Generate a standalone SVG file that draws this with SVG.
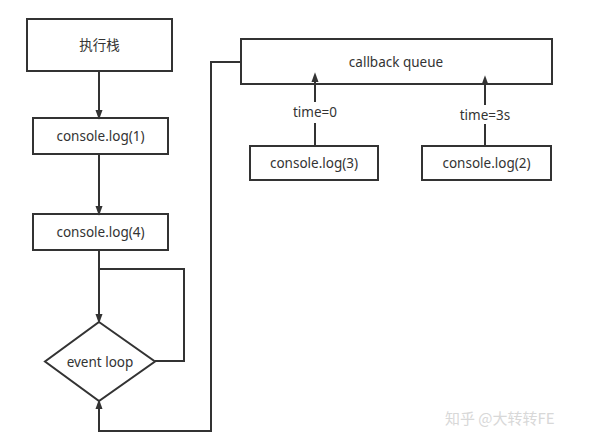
<svg xmlns="http://www.w3.org/2000/svg" width="589" height="445" viewBox="0 0 589 445">
<style>
.box{fill:#fff;stroke:#333;stroke-width:2}
.ln{fill:none;stroke:#333;stroke-width:2}
.t{font-family:"Noto Sans","Noto Sans CJK SC",sans-serif;font-size:13.5px;fill:#333;text-anchor:middle;dominant-baseline:central}
.wm{font-family:"Noto Sans CJK SC","Noto Sans",sans-serif;font-size:15px;fill:#d8d8d8}
</style>
<defs>
<marker id="ah" markerWidth="10" markerHeight="14" refX="10" refY="5" orient="auto" markerUnits="userSpaceOnUse" viewBox="0 0 14 10">
<path d="M0,0 L14,5 L0,10 Z" fill="#333"/>
</marker>
</defs>
<rect width="589" height="445" fill="#fff"/>
<g id="stack">
<rect class="box" x="27" y="19" width="145" height="52"/>
<text class="t" x="99.5" y="45">执行栈</text>
</g>
<g id="log1">
<rect class="box" x="33" y="118" width="135" height="36"/>
<text class="t" x="100.5" y="136">console.log(1)</text>
</g>
<g id="log4">
<rect class="box" x="33" y="214" width="135" height="36"/>
<text class="t" x="100.5" y="232">console.log(4)</text>
</g>
<g id="eventloop">
<path class="box" d="M99,322 L155,361.5 L99,401 L45,361.5 Z"/>
<text class="t" x="100" y="362">event loop</text>
</g>
<g id="queue">
<rect class="box" x="241" y="39" width="311" height="45"/>
<text class="t" x="396" y="62">callback queue</text>
</g>
<g id="log3">
<rect class="box" x="250" y="146" width="128" height="34"/>
<text class="t" x="314" y="163">console.log(3)</text>
</g>
<g id="log2">
<rect class="box" x="422" y="146" width="129" height="34"/>
<text class="t" x="486.5" y="163">console.log(2)</text>
</g>
<g id="connectors">
<path class="ln" d="M99,71 V117" marker-end="url(#ah)"/>
<path class="ln" d="M99,154 V213" marker-end="url(#ah)"/>
<path class="ln" d="M99,250 V321" marker-end="url(#ah)"/>
<path class="ln" d="M99,269 H184 V361 H155"/>
<path class="ln" d="M241,62 H211 V431 H99 V402" marker-end="url(#ah)"/>
<path class="ln" d="M315,146 V123"/>
<path class="ln" d="M315,102 V75" marker-end="url(#ah)"/>
<path class="ln" d="M485,146 V124"/>
<path class="ln" d="M485,105 V78" marker-end="url(#ah)"/>
<text class="t" x="315" y="112">time=0</text>
<text class="t" x="485" y="115">time=3s</text>
</g>
<text class="wm" x="445" y="424">知乎 @大转转FE</text>
</svg>
